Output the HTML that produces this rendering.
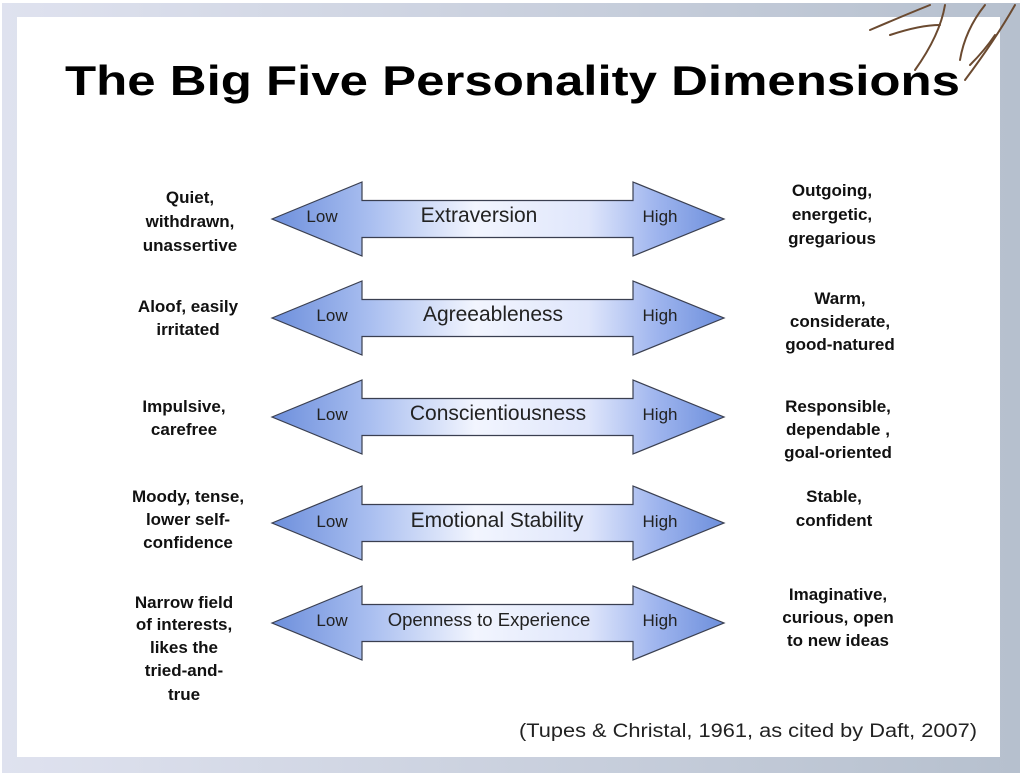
<!DOCTYPE html>
<html><head><meta charset="utf-8"><style>
html,body{margin:0;padding:0;background:#fff;}
svg{display:block;}
text{font-family:"Liberation Sans",Arial,sans-serif;}
</style></head><body>
<svg width="1020" height="776" viewBox="0 0 1020 776" xmlns="http://www.w3.org/2000/svg">
<defs>
<linearGradient id="fr" x1="0" x2="1" y1="0" y2="0">
<stop offset="0" stop-color="#dfe2ef"/><stop offset="1" stop-color="#b6c0ce"/>
</linearGradient>
<linearGradient id="ag" x1="272" x2="724" y1="0" y2="0" gradientUnits="userSpaceOnUse">
<stop offset="0" stop-color="#6d8fdc"/><stop offset="0.22" stop-color="#aabff0"/>
<stop offset="0.45" stop-color="#f2f5fe"/><stop offset="0.7" stop-color="#dfe6fb"/>
<stop offset="0.85" stop-color="#9fb5ee"/><stop offset="1" stop-color="#6d8fdc"/>
</linearGradient>
<path id="arr" d="M272,0 L362,-37 L362,-18.5 L633,-18.5 L633,-37 L724,0 L633,37 L633,18.5 L362,18.5 L362,37 Z" fill="url(#ag)" stroke="#3a3f50" stroke-width="1.2"/>
</defs>
<rect x="2" y="3" width="1018" height="770" fill="url(#fr)"/>
<rect x="17" y="17" width="983" height="740" fill="#fff"/>
<g stroke="#6b4a30" stroke-width="2" fill="none" stroke-linecap="round">
<path d="M870,30 Q905,15 930,5"/><path d="M890,35 Q920,25 940,25"/>
<path d="M945,5 Q940,35 915,70"/><path d="M985,5 Q965,30 960,60"/>
<path d="M1015,5 Q995,40 965,80"/><path d="M995,35 Q985,50 970,65"/>
</g>
<text x="65" y="95" font-size="42" font-weight="bold" fill="#000" textLength="895" lengthAdjust="spacingAndGlyphs">The Big Five Personality Dimensions</text>
<g transform="translate(0,219)"><use href="#arr"/></g>
<g transform="translate(0,318)"><use href="#arr"/></g>
<g transform="translate(0,417)"><use href="#arr"/></g>
<g transform="translate(0,523)"><use href="#arr"/></g>
<g transform="translate(0,623)"><use href="#arr"/></g>
<g font-size="17" fill="#222" text-anchor="middle">
<text x="322" y="222">Low</text><text x="660" y="222">High</text>
<text x="332" y="321">Low</text><text x="660" y="321">High</text>
<text x="332" y="420">Low</text><text x="660" y="420">High</text>
<text x="332" y="527">Low</text><text x="660" y="527">High</text>
<text x="332" y="626">Low</text><text x="660" y="626">High</text>
</g>
<g font-size="21" fill="#222" text-anchor="middle">
<text x="479" y="222">Extraversion</text>
<text x="493" y="321">Agreeableness</text>
<text x="498" y="420">Conscientiousness</text>
<text x="497" y="527">Emotional Stability</text>
<text x="489" y="626" font-size="18.5">Openness to Experience</text>
</g>
<g font-size="17" font-weight="bold" fill="#111" text-anchor="middle">
<text x="190" y="203">Quiet,</text><text x="190" y="227">withdrawn,</text><text x="190" y="251">unassertive</text>
<text x="188" y="312">Aloof, easily</text><text x="188" y="335">irritated</text>
<text x="184" y="412">Impulsive,</text><text x="184" y="435">carefree</text>
<text x="188" y="502">Moody, tense,</text><text x="188" y="525">lower self-</text><text x="188" y="548">confidence</text>
<text x="184" y="608">Narrow field</text><text x="184" y="630">of interests,</text><text x="184" y="653">likes the</text><text x="184" y="676">tried-and-</text><text x="184" y="700">true</text>
<text x="832" y="196">Outgoing,</text><text x="832" y="220">energetic,</text><text x="832" y="244">gregarious</text>
<text x="840" y="304">Warm,</text><text x="840" y="327">considerate,</text><text x="840" y="350">good-natured</text>
<text x="838" y="412">Responsible,</text><text x="838" y="435">dependable ,</text><text x="838" y="458">goal-oriented</text>
<text x="834" y="502">Stable,</text><text x="834" y="526">confident</text>
<text x="838" y="600">Imaginative,</text><text x="838" y="623">curious, open</text><text x="838" y="646">to new ideas</text>
</g>
<text x="519" y="737" font-size="19" fill="#222" textLength="458" lengthAdjust="spacingAndGlyphs">(Tupes &amp; Christal, 1961, as cited by Daft, 2007)</text>
</svg>
</body></html>
